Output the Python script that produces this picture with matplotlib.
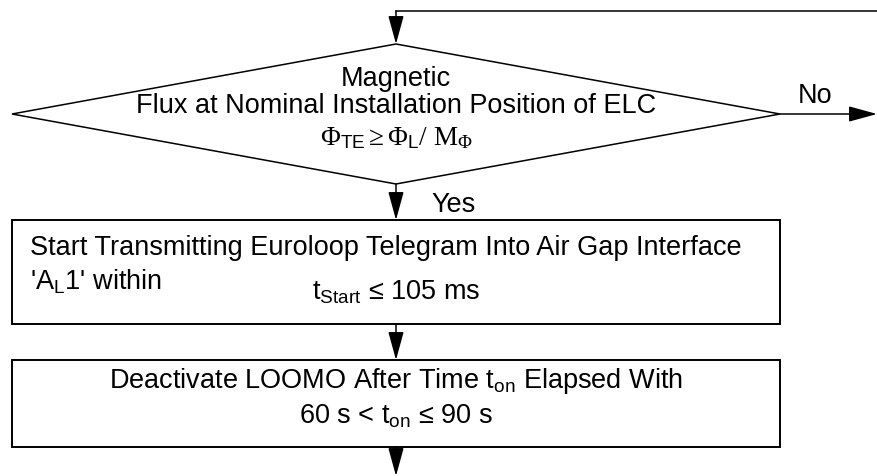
import matplotlib
matplotlib.use("Agg")
import matplotlib.pyplot as plt
from matplotlib.patches import Polygon, Rectangle, FancyArrowPatch

plt.rcParams['font.family'] = ['Liberation Sans', 'DejaVu Sans']
plt.rcParams['mathtext.fontset'] = 'custom'
plt.rcParams['mathtext.rm'] = 'Liberation Serif'
plt.rcParams['mathtext.it'] = 'Liberation Serif:italic'
plt.rcParams['mathtext.sf'] = 'Liberation Sans'

decision_lines = ["Magnetic", "Flux at Nominal Installation Position of ELC"]
decision_formula = r"$\Phi_{\mathsf{TE}} \geq \Phi_{\mathsf{L}}/\ \mathrm{M}_{\Phi}$"
label_no = "No"
label_yes = "Yes"
box1_lines = ["Start Transmitting Euroloop Telegram Into Air Gap Interface",
              r"'$\mathregular{A_L}$1' within"]
box1_formula = r"$\mathregular{t_{Start}}$ ≤ 105 ms"
box2_lines = [r"Deactivate LOOMO After Time $\mathregular{t_{on}}$ Elapsed With",
              r"60 s < $\mathregular{t_{on}}$ ≤ 90 s"]

W, H = 877, 476
fig = plt.figure(figsize=(W / 100, H / 100), dpi=100)
ax = fig.add_axes([0, 0, 1, 1])
ax.set_xlim(0, W)
ax.set_ylim(H, 0)
ax.axis('off')

cx = 396
lw = 1.1
fs = 19.5

def arrow(x0, y0, x1, y1):
    ax.add_patch(FancyArrowPatch((x0, y0), (x1, y1),
                 arrowstyle="-|>,head_length=1.75,head_width=0.48",
                 mutation_scale=10, color="black", lw=lw,
                 shrinkA=0, shrinkB=0))

# loop back line
ax.plot([W, cx], [11, 11], color="black", lw=lw, solid_capstyle='projecting')
arrow(cx, 11, cx, 44)

# diamond
ax.add_patch(Polygon([(cx, 44), (780, 114), (cx, 184), (12, 114)], closed=True,
                     fill=False, ec="black", lw=lw))
ax.text(cx, 86, decision_lines[0], ha="center", va="baseline", fontsize=fs)
ax.text(cx, 113, decision_lines[1], ha="center", va="baseline", fontsize=fs)
ax.text(cx, 145, decision_formula, ha="center", va="baseline", fontsize=fs)

# No branch
arrow(780, 114, W, 114)
ax.text(798, 103, label_no, ha="left", va="baseline", fontsize=fs)

# Yes branch
arrow(cx, 184, cx, 220)
ax.text(431, 212, label_yes, ha="left", va="baseline", fontsize=fs)

# box 1
ax.add_patch(Rectangle((12, 220), 768, 104, fill=False, ec="black", lw=lw + 0.3))
ax.text(30, 255, box1_lines[0], ha="left", va="baseline", fontsize=fs)
ax.text(30, 290, box1_lines[1], ha="left", va="baseline", fontsize=fs)
ax.text(cx, 300, box1_formula, ha="center", va="baseline", fontsize=fs)

arrow(cx, 324, cx, 360)

# box 2
ax.add_patch(Rectangle((12, 360), 768, 87, fill=False, ec="black", lw=lw + 0.3))
ax.text(cx, 388, box2_lines[0], ha="center", va="baseline", fontsize=fs)
ax.text(cx, 424, box2_lines[1], ha="center", va="baseline", fontsize=fs)

arrow(cx, 447, cx, H)

fig.savefig("out.png", dpi=100)
